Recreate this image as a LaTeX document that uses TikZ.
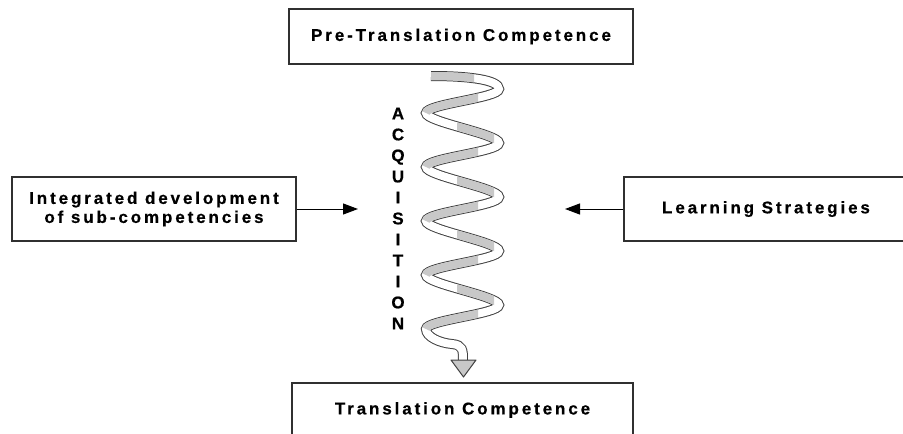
\documentclass[tikz,border=0pt]{standalone}
\usepackage{fontspec}
\setmainfont{Liberation Sans}
\newfontfamily\lblfont{Liberation Sans}[LetterSpace=17,FakeBold=0.5]
\newfontfamily\acqfnt{Liberation Sans}[FakeBold=0.5]
\usetikzlibrary{arrows.meta}
\definecolor{edgec}{HTML}{303030}
\definecolor{ribline}{HTML}{404040}
\definecolor{ribgray}{HTML}{C8C8C8}
\begin{document}
\begin{tikzpicture}[x=1pt,y=-1pt,
  box/.style={draw=edgec,line width=1.2pt,fill=white,inner sep=0pt,align=center,
    font=\lblfont\bfseries\fontsize{17}{19}\selectfont},
  conn/.style={draw=black,line width=1pt,-{Triangle[length=15pt,width=11pt]}},
  ribbon/.style={draw=white,line width=8pt,preaction={draw=ribline,line width=10pt}},
  ribfill/.style={draw=ribgray,line width=8pt},
  acqfont/.style={font=\acqfnt\bfseries\fontsize{17}{21}\selectfont,align=center,inner sep=0pt}]
\useasboundingbox (0,0) rectangle (903,434);
\clip (0,0) rectangle (903,434);

% boxes
\node[box, minimum width=344pt, minimum height=55pt] (pre) at (461,36.5) {Pre-Translation Competence};
\node[box, minimum width=284pt, minimum height=64pt] (integ) at (154,209) {Integrated development\\of sub-competencies};
\node[box, minimum width=284pt, minimum height=64pt] (learn) at (766,209) {Learning Strategies};
\node[box, minimum width=341pt, minimum height=54pt] (tc) at (462.5,410) {Translation Competence};

% vertical label
\node[acqfont] (acq) at (398,218.5) {A\\C\\Q\\U\\I\\S\\I\\T\\I\\O\\N};

% arrows
\coordinate (lt) at (358,209);
\coordinate (rt) at (565,209);
\draw[conn] (integ.east) -- (lt);
\draw[conn] (learn.west) -- (rt);

% spiral ribbon
\draw[ribbon] (431,76) .. controls (470,76) and (499,80) .. (499,89)
  .. controls (499,98) and (426,104) .. (426,113)
  .. controls (426,122) and (499,134) .. (499,143)
  .. controls (499,152) and (426,158) .. (426,167)
  .. controls (426,176) and (499,188) .. (499,197)
  .. controls (499,206) and (426,212) .. (426,221)
  .. controls (426,230) and (499,242) .. (499,251)
  .. controls (499,260) and (426,266) .. (426,275)
  .. controls (426,284) and (499,296) .. (499,305)
  .. controls (499,314) and (426,320) .. (426,329)
  .. controls (426,337) and (440,343) .. (452,344)
  .. controls (463,345) and (463,350) .. (463,361);

% gray shading
\begin{scope}
  \clip (400,0) rectangle (474,434);
  \draw[ribfill] (431,76) .. controls (470,76) and (499,80) .. (499,89);
\end{scope}
\begin{scope}
  \clip (400,0) rectangle (478,434);
  \draw[ribfill] (499,89) .. controls (499,98) and (426,104) .. (426,113);
  \draw[ribfill] (499,143) .. controls (499,152) and (426,158) .. (426,167);
  \draw[ribfill] (499,197) .. controls (499,206) and (426,212) .. (426,221);
  \draw[ribfill] (499,251) .. controls (499,260) and (426,266) .. (426,275);
  \draw[ribfill] (499,305) .. controls (499,314) and (426,320) .. (426,329);
\end{scope}
\begin{scope}
  \clip (457,0) rectangle (494,434);
  \draw[ribfill] (426,113) .. controls (426,122) and (499,134) .. (499,143);
  \draw[ribfill] (426,167) .. controls (426,176) and (499,188) .. (499,197);
  \draw[ribfill] (426,221) .. controls (426,230) and (499,242) .. (499,251);
  \draw[ribfill] (426,275) .. controls (426,284) and (499,296) .. (499,305);
\end{scope}

% arrow head of ribbon
\draw[fill=ribgray,draw=ribline,line width=1pt,line join=round] (451,360) -- (476,360) -- (463.5,377) -- cycle;
\end{tikzpicture}
\end{document}
